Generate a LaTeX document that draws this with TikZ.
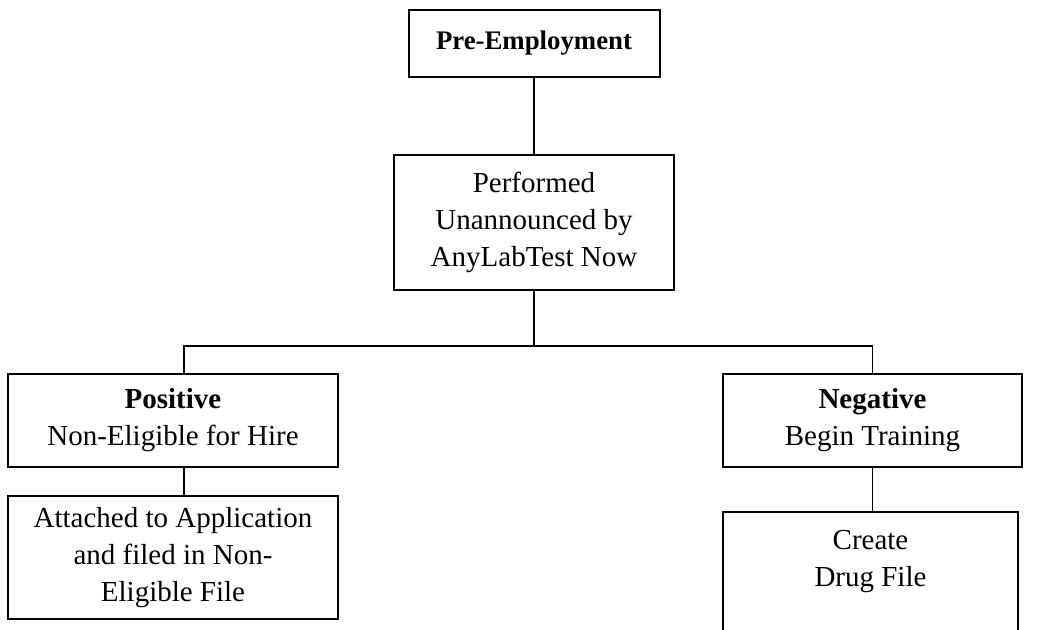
\documentclass[tikz,border=0pt]{standalone}
\usepackage{fontspec}
\setmainfont{Liberation Serif}
\usetikzlibrary{calc}
\tikzset{
  box/.style={draw, line width=1pt, align=center, inner sep=0pt},
  link/.style={line width=0.75pt}
}
\begin{document}
\begin{tikzpicture}[x=0.5pt,y=-0.5pt,font=\fontsize{14.5}{18.5}\selectfont]
\useasboundingbox (0,0) rectangle (1040,630);
% top
\node [box, minimum width=125.5pt, minimum height=33.5pt, font=\fontsize{13.4}{16}\selectfont] (pre) at (534,43.5) {\textbf{Pre-Employment}};
\node [box, minimum width=140pt, minimum height=67.5pt] (perf) at (534,222.5) {Performed\\Unannounced by\\AnyLabTest Now};
% results
\node [box, minimum width=165pt, minimum height=46.5pt] (pos) at (173,420.5) {\textbf{Positive}\\Non-Eligible for Hire};
\node [box, minimum width=149.5pt, minimum height=46.5pt] (neg) at (872.5,420.5) {\textbf{Negative}\\Begin Training};
% files
\node [box, minimum width=165pt, minimum height=61.5pt] (att) at (173,557.5) {Attached to Application\\and filed in Non-\\Eligible File};
\node [box, minimum width=147.5pt, inner ysep=9pt, text depth=60pt, anchor=north] (create) at (870.5,511) {Create\\Drug File};
%
\coordinate (split) at (534,346);
\draw [link] (pre) -- (perf);
\draw [link] (perf) -- (split);
\draw [link] ([xshift=5.5pt]pos.north) |- (split) -| (neg.north);
\draw [link] ([xshift=5.5pt]pos.south) -- ([xshift=5.5pt]att.north);
\draw [link] (neg.south) -- (neg.south |- create.north);
\end{tikzpicture}
\end{document}
